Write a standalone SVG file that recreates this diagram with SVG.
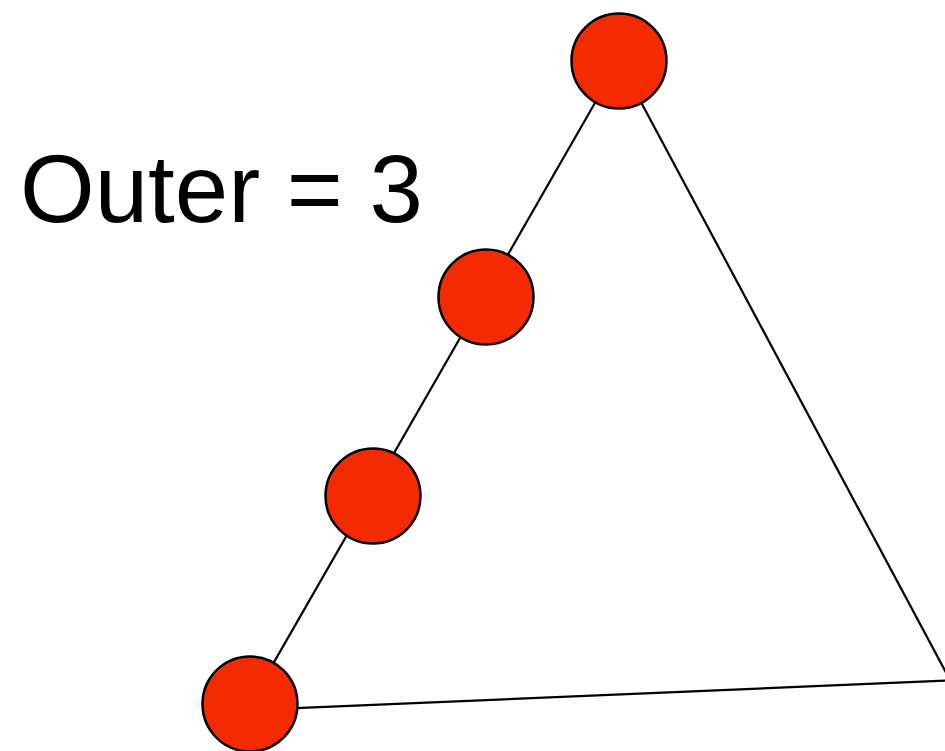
<svg xmlns="http://www.w3.org/2000/svg" width="945" height="751" viewBox="0 0 945 751">
<style>
.node{fill:#f42a00;stroke:#000;stroke-width:2.5}
.edge{stroke:#000;stroke-width:2.2;fill:none}
.label{font-family:"Liberation Sans",Arial,sans-serif;font-size:96px;fill:#000}
</style>
<rect width="945" height="751" fill="#fff"/>
<g id="connectors">
<line class="edge" x1="619" y1="61" x2="950" y2="680"/>
<line class="edge" x1="250" y1="710" x2="950" y2="680.5"/>
<line class="edge" x1="619" y1="61" x2="250" y2="704"/>
</g>
<g id="n1"><circle class="node" cx="619" cy="61" r="47.5"/></g>
<g id="n2"><circle class="node" cx="486" cy="297" r="47.5"/></g>
<g id="n3"><circle class="node" cx="373" cy="496" r="47.5"/></g>
<g id="n4"><circle class="node" cx="250" cy="704" r="47.5"/></g>
<text class="label" x="20" y="222">Outer = 3</text>
</svg>
